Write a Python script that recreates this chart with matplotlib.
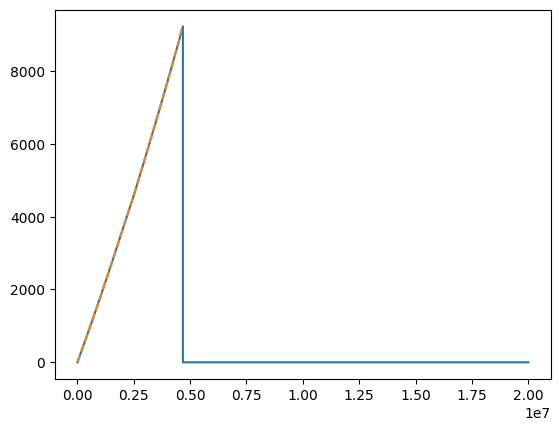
import matplotlib
matplotlib.use('Agg')
import matplotlib.pyplot as plt

# simulated signal (blue) and fitted ramp (orange)
t_sim = [0, 0.5e6, 1.0e6, 1.5e6, 2.0e6, 2.5e6, 3.0e6, 3.5e6, 4.0e6, 4.5e6, 4.68e6, 4.68e6, 2.0e7]
v_sim = [0, 865, 1758, 2680, 3632, 4580, 5600, 6640, 7710, 8810, 9220, 0, 0]

t_fit = [0, 0.5e6, 1.0e6, 1.5e6, 2.0e6, 2.5e6, 3.0e6, 3.5e6, 4.0e6, 4.5e6, 4.63e6]
v_fit = [0, 865, 1758, 2680, 3632, 4580, 5600, 6640, 7710, 8810, 9150]

fig, ax = plt.subplots(figsize=(6.4, 4.8), dpi=100)
ax.plot(t_sim, v_sim, '-', color='C0')
ax.plot(t_fit, v_fit, '--', color='C1')

fig.savefig('out.png', bbox_inches='tight')
